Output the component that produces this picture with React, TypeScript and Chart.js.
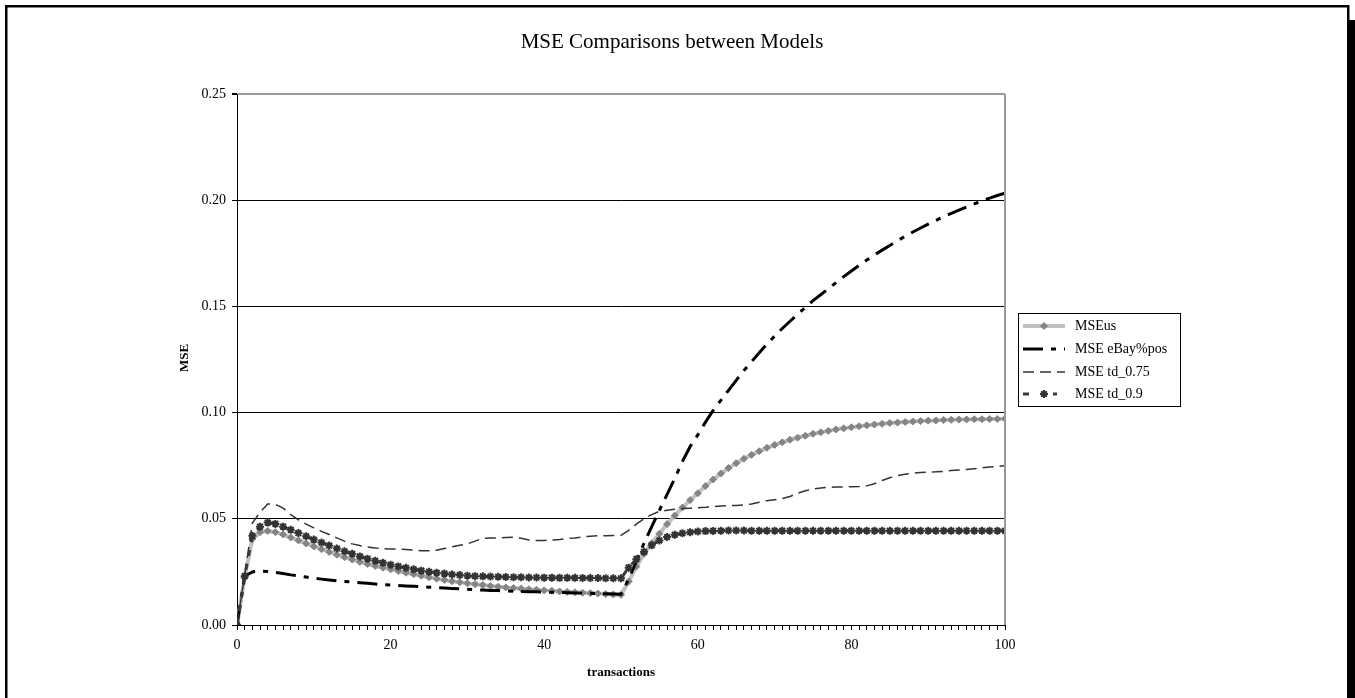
import React, { useEffect, useRef } from "react";
import { Chart, registerables } from "chart.js";

Chart.register(...registerables);

const transactions = [
  0, 1, 2, 3, 4, 5, 6, 7, 8, 9, 10, 11, 12, 13, 14, 15, 16, 17, 18, 19, 20,
  21, 22, 23, 24, 25, 26, 27, 28, 29, 30, 31, 32, 33, 34, 35, 36, 37, 38, 39, 40,
  41, 42, 43, 44, 45, 46, 47, 48, 49, 50, 51, 52, 53, 54, 55, 56, 57, 58, 59, 60,
  61, 62, 63, 64, 65, 66, 67, 68, 69, 70, 71, 72, 73, 74, 75, 76, 77, 78, 79, 80,
  81, 82, 83, 84, 85, 86, 87, 88, 89, 90, 91, 92, 93, 94, 95, 96, 97, 98, 99, 100,
];

const mseUs = [
  0, 0.0225, 0.0405, 0.0437, 0.0443, 0.0437, 0.0426, 0.0412, 0.0398, 0.0384, 0.037,
  0.0357, 0.0344, 0.0331, 0.0319, 0.0308, 0.0297, 0.0287, 0.0278, 0.027, 0.0262,
  0.0254, 0.0246, 0.0239, 0.0232, 0.0225, 0.0218, 0.0212, 0.0206, 0.0201, 0.0196,
  0.0192, 0.0188, 0.0184, 0.018, 0.0177, 0.0174, 0.0171, 0.0168, 0.0166, 0.0163,
  0.0161, 0.0158, 0.0156, 0.0154, 0.0152, 0.015, 0.0148, 0.0146, 0.0144, 0.0142,
  0.0205, 0.0275, 0.0335, 0.0385, 0.043, 0.0475, 0.0515, 0.0553, 0.0588, 0.062,
  0.0654, 0.0685, 0.0713, 0.0739, 0.0762, 0.0783, 0.0801, 0.0818, 0.0834, 0.0848,
  0.086, 0.0872, 0.0882, 0.0891, 0.09, 0.0907, 0.0914, 0.0921, 0.0926, 0.0931,
  0.0936, 0.094, 0.0944, 0.0947, 0.0951, 0.0953, 0.0956, 0.0958, 0.096, 0.0962,
  0.0963, 0.0965, 0.0966, 0.0967, 0.0968, 0.0969, 0.0969, 0.097, 0.097, 0.0971,
];

const mseEbayPos = [
  0, 0.023, 0.025, 0.0254, 0.0252, 0.0248, 0.0242, 0.0236, 0.0231, 0.0226, 0.022,
  0.0216, 0.0212, 0.0208, 0.0205, 0.0202, 0.0199, 0.0196, 0.0193, 0.019, 0.0188,
  0.0186, 0.0184, 0.0182, 0.018, 0.0178, 0.0176, 0.0174, 0.0172, 0.017, 0.0168,
  0.0166, 0.0165, 0.0163, 0.0162, 0.016, 0.0159, 0.0158, 0.0157, 0.0156, 0.0155,
  0.0154, 0.0153, 0.0152, 0.0151, 0.015, 0.0149, 0.0148, 0.0147, 0.0146, 0.0145,
  0.0215, 0.03, 0.0385, 0.0463, 0.054, 0.0615, 0.069, 0.077, 0.084, 0.0895,
  0.0955, 0.101, 0.1058, 0.1105, 0.1152, 0.1198, 0.124, 0.1282, 0.1322, 0.136,
  0.1396, 0.143, 0.1463, 0.1495, 0.1527, 0.1555, 0.1583, 0.1612, 0.164, 0.1667,
  0.1693, 0.1718, 0.1742, 0.1765, 0.1787, 0.1809, 0.183, 0.185, 0.1869, 0.1887,
  0.1905, 0.1922, 0.1938, 0.1953, 0.1968, 0.1983, 0.1997, 0.201, 0.2022, 0.2033,
];

const mseTd075 = [
  0, 0.0235, 0.048, 0.053, 0.057, 0.0568, 0.055, 0.052, 0.0495, 0.0475, 0.0457,
  0.0441, 0.0426, 0.041, 0.0395, 0.0382, 0.0374, 0.0367, 0.0362, 0.036, 0.0358,
  0.0358, 0.0356, 0.0352, 0.035, 0.035, 0.0352, 0.036, 0.0368, 0.0375, 0.0382,
  0.0395, 0.0408, 0.041, 0.041, 0.0412, 0.0413, 0.0408, 0.04, 0.0398, 0.0398,
  0.04, 0.0403, 0.0407, 0.041, 0.0415, 0.0418, 0.042, 0.042, 0.0421, 0.0422,
  0.0445, 0.0475, 0.05, 0.052, 0.0535, 0.054, 0.0545, 0.0548, 0.055, 0.0552,
  0.0554, 0.0557, 0.056, 0.0562, 0.0563, 0.0565, 0.057, 0.0578, 0.0585, 0.059,
  0.0595, 0.0605, 0.062, 0.0632, 0.064, 0.0645, 0.0648, 0.065, 0.065, 0.0651,
  0.0652, 0.0655, 0.0665, 0.068, 0.0693, 0.0703, 0.071, 0.0715, 0.0718, 0.072,
  0.0721, 0.0723, 0.0727, 0.073, 0.0732, 0.0736, 0.074, 0.0744, 0.0747, 0.075,
];

const mseTd09 = [
  0, 0.023, 0.042, 0.0463, 0.0482, 0.0476, 0.0463, 0.0448, 0.0433, 0.0418, 0.0402,
  0.0388, 0.0374, 0.036, 0.0347, 0.0335, 0.0323, 0.0312, 0.0302, 0.0293, 0.0284,
  0.0276, 0.0269, 0.0262, 0.0256, 0.0251, 0.0246, 0.0242, 0.0238, 0.0235, 0.0232,
  0.023, 0.0229, 0.0228, 0.0227, 0.0226, 0.0225, 0.0225, 0.0224, 0.0224, 0.0223,
  0.0223, 0.0222, 0.0222, 0.0222, 0.0221, 0.0221, 0.0221, 0.022, 0.022, 0.022,
  0.027, 0.031, 0.0345, 0.0375, 0.0398, 0.0414, 0.0425, 0.0432, 0.0437, 0.044,
  0.0442, 0.0443, 0.0444, 0.0445, 0.0445, 0.0445, 0.0444, 0.0444, 0.0444, 0.0444,
  0.0444, 0.0444, 0.0444, 0.0444, 0.0444, 0.0444, 0.0444, 0.0444, 0.0444, 0.0444,
  0.0444, 0.0444, 0.0444, 0.0444, 0.0444, 0.0444, 0.0444, 0.0444, 0.0444, 0.0444,
  0.0444, 0.0444, 0.0444, 0.0444, 0.0444, 0.0444, 0.0444, 0.0444, 0.0444, 0.0444,
];

const seriesNames = ["MSEus", "MSE eBay%pos", "MSE td_0.75", "MSE td_0.9"];
const xTickLabels = [0, 20, 40, 60, 80, 100];
const yTickValues = [0, 0.05, 0.1, 0.15, 0.2, 0.25];

const chartTitle = "MSE Comparisons between Models";
const xTitle = "transactions";
const yTitle = "MSE";

const FONT = "'Liberation Serif', 'Times New Roman', serif";

function drawMarker(ctx: CanvasRenderingContext2D, style: string, x: number, y: number, r: number, fill: string, stroke: string, lw: number) {
  ctx.save();
  ctx.fillStyle = fill;
  ctx.strokeStyle = stroke;
  ctx.lineWidth = lw;
  ctx.beginPath();
  if (style === "rectRot") {
    ctx.moveTo(x, y - r);
    ctx.lineTo(x + r, y);
    ctx.lineTo(x, y + r);
    ctx.lineTo(x - r, y);
    ctx.closePath();
    ctx.fill();
    ctx.stroke();
  } else if (style === "star") {
    ctx.moveTo(x - r, y);
    ctx.lineTo(x + r, y);
    ctx.moveTo(x, y - r);
    ctx.lineTo(x, y + r);
    const d = r * Math.SQRT1_2;
    ctx.moveTo(x - d, y - d);
    ctx.lineTo(x + d, y + d);
    ctx.moveTo(x - d, y + d);
    ctx.lineTo(x + d, y - d);
    ctx.stroke();
  }
  ctx.restore();
}

const decorPlugin = {
  id: "decor",
  afterDraw(chart: any) {
    const ctx = chart.ctx as CanvasRenderingContext2D;
    const area = chart.chartArea;
    ctx.save();
    // plot area right border
    ctx.strokeStyle = "#9a9a9a";
    ctx.lineWidth = 2;
    ctx.beginPath();
    ctx.moveTo(area.right, area.top);
    ctx.lineTo(area.right, area.bottom);
    ctx.stroke();

    // title
    ctx.fillStyle = "#000";
    ctx.font = `21px ${FONT}`;
    ctx.textAlign = "center";
    ctx.textBaseline = "middle";
    ctx.fillText(chartTitle, 672, 42);

    // axis titles
    ctx.font = `bold 13px ${FONT}`;
    ctx.fillText(xTitle, 621, 673);
    ctx.save();
    ctx.translate(185, 358);
    ctx.rotate(-Math.PI / 2);
    ctx.fillText(yTitle, 0, 0);
    ctx.restore();

    // legend
    const lx = 1018, ly = 313, lw = 162, lh = 93;
    ctx.fillStyle = "#fff";
    ctx.fillRect(lx, ly, lw, lh);
    ctx.strokeStyle = "#000";
    ctx.lineWidth = 1;
    ctx.strokeRect(lx + 0.5, ly + 0.5, lw, lh);
    const rows = [326, 349, 372, 394];
    const ds = chart.data.datasets;
    ds.forEach((d: any, i: number) => {
      const y = rows[i];
      const x0 = 1023, x1 = 1065;
      ctx.save();
      ctx.strokeStyle = d.borderColor;
      ctx.lineWidth = d.borderWidth;
      ctx.setLineDash(d.borderDash || []);
      ctx.beginPath();
      ctx.moveTo(x0, y);
      ctx.lineTo(x1, y);
      ctx.stroke();
      ctx.setLineDash([]);
      if (d.pointRadius > 0) {
        if (d.pointStyle === "star") {
          ctx.fillStyle = "#fff";
          ctx.fillRect(1037, y - 6, 16, 12);
        }
        drawMarker(ctx, d.pointStyle, (x0 + x1) / 2, y, d.pointRadius, d.pointBackgroundColor, d.pointBorderColor, d.pointBorderWidth);
      }
      ctx.restore();
      ctx.fillStyle = "#000";
      ctx.font = `14px ${FONT}`;
      ctx.textAlign = "left";
      ctx.textBaseline = "middle";
      ctx.fillText(d.label, 1075, y);
    });

    // outer frame
    ctx.strokeStyle = "#000";
    ctx.lineWidth = 2.5;
    ctx.strokeRect(6.25, 6.25, 1342, 800);
    ctx.fillStyle = "#000";
    ctx.fillRect(1348, 20, 7, 678);
    ctx.restore();
  },
};

function toPoints(values: number[]) {
  return transactions.map((x, i) => ({ x, y: values[i] }));
}

export default function App() {
  const canvasRef = useRef<HTMLCanvasElement | null>(null);

  useEffect(() => {
    const canvas = canvasRef.current;
    if (!canvas) return;
    Chart.defaults.font.family = FONT;
    Chart.defaults.color = "#000";
    const chart = new Chart(canvas, {
      type: "line",
      data: {
        datasets: [
          {
            label: seriesNames[0],
            data: toPoints(mseUs),
            borderColor: "#c0c0c0",
            borderWidth: 4,
            pointStyle: "rectRot",
            pointRadius: 3.5,
            pointBackgroundColor: "#858585",
            pointBorderColor: "#858585",
            pointBorderWidth: 1,
            order: 4,
          },
          {
            label: seriesNames[1],
            data: toPoints(mseEbayPos),
            borderColor: "#000",
            borderWidth: 3,
            borderDash: [20, 8, 5, 8],
            pointRadius: 0,
            order: 3,
          },
          {
            label: seriesNames[2],
            data: toPoints(mseTd075),
            borderColor: "#333",
            borderWidth: 1.5,
            borderDash: [11, 6],
            pointRadius: 0,
            order: 2,
          },
          {
            label: seriesNames[3],
            data: toPoints(mseTd09),
            borderColor: "#3a3a3a",
            borderWidth: 3,
            borderDash: [6, 8],
            pointStyle: "star",
            pointRadius: 4,
            pointBackgroundColor: "#333",
            pointBorderColor: "#333",
            pointBorderWidth: 2,
            order: 1,
          },
        ] as any,
      },
      options: {
        animation: false,
        responsive: false,
        devicePixelRatio: 1,
        layout: { padding: { left: 175, top: 94, right: 350, bottom: 0 } },
        plugins: {
          legend: { display: false },
          title: { display: false },
          tooltip: { enabled: false },
        },
        elements: { line: { tension: 0 } },
        scales: {
          x: {
            type: "linear",
            min: 0,
            max: 100,
            afterFit: (s: any) => {
              s.height = 73;
            },
            ticks: {
              stepSize: 1,
              autoSkip: false,
              maxRotation: 0,
              padding: 7,
              font: { size: 14, family: FONT },
              color: "#000",
              callback: (v: any) => (xTickLabels.includes(Number(v)) ? String(v) : ""),
            },
            grid: {
              drawOnChartArea: false,
              drawTicks: true,
              tickLength: 5,
              tickColor: "#000",
              color: "#000",
            },
            border: { display: true, color: "#000", width: 1 },
          },
          y: {
            type: "linear",
            min: 0,
            max: 0.25,
            afterFit: (s: any) => {
              s.width = 62;
            },
            afterBuildTicks: (s: any) => {
              s.ticks = yTickValues.map((v) => ({ value: v }));
            },
            ticks: {
              padding: 6,
              font: { size: 14, family: FONT },
              color: "#000",
              callback: (v: any) => Number(v).toFixed(2),
            },
            grid: {
              drawTicks: true,
              tickLength: 5,
              tickColor: "#000",
              color: (c: any) => (c.tick && c.tick.value >= 0.249 ? "#9a9a9a" : "#000"),
              lineWidth: (c: any) => (c.tick && c.tick.value >= 0.249 ? 2 : 1),
            },
            border: { display: true, color: "#000", width: 1 },
          },
        },
      } as any,
      plugins: [decorPlugin],
    });
    return () => chart.destroy();
  }, []);

  return (
    <div style={{ position: "absolute", left: 0, top: 0, width: 1355, height: 698, background: "#fff" }}>
      <canvas ref={canvasRef} width={1355} height={698} style={{ display: "block" }} />
    </div>
  );
}
